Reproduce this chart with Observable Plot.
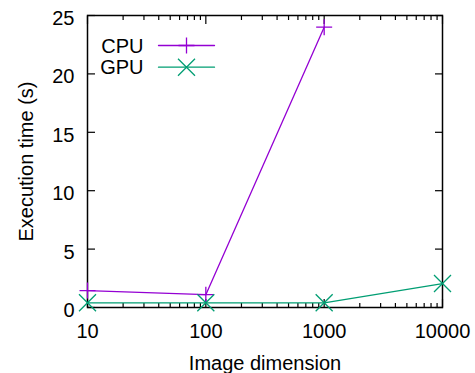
<!DOCTYPE html>
<html><head><meta charset="utf-8">
<script src="https://cdn.jsdelivr.net/npm/d3@7"></script>
<script src="https://cdn.jsdelivr.net/npm/@observablehq/plot@0.6"></script>
<style>body{margin:0;background:#fff}</style>
</head><body><div id="chart"></div>
<script>
const cpuDims = [10, 100, 1000];
const cpuTimes = [1.45, 1.1, 24.0];
const gpuDims = [10, 100, 1000, 10000];
const gpuTimes = [0.4, 0.4, 0.4, 2.05];
const seriesNames = ["CPU", "GPU"];
const seriesColors = ["#9400d3", "#009e73"];
const xTicks = [10, 100, 1000, 10000];
const xMinor = [20, 30, 40, 50, 60, 70, 80, 90, 200, 300, 400, 500, 600, 700, 800, 900, 2000, 3000, 4000, 5000, 6000, 7000, 8000, 9000];
const yTicks = [0, 5, 10, 15, 20, 25];
const xTitle = "Image dimension";
const yTitle = "Execution time (s)";

const cpu = cpuDims.map((d, i) => ({dim: d, t: cpuTimes[i]}));
const gpu = gpuDims.map((d, i) => ({dim: d, t: gpuTimes[i]}));

const plusSym = {draw(c) { c.moveTo(-8, 0); c.lineTo(8, 0); c.moveTo(0, -8); c.lineTo(0, 8); }};
const timesSym = {draw(c) { c.moveTo(-8.5, -8.5); c.lineTo(8.5, 8.5); c.moveTo(-8.5, 8.5); c.lineTo(8.5, -8.5); }};
const lineShape = {draw(c, l) { c.moveTo(0, 0); c.lineTo(0, -l); }};
const blank = () => "";

const chart = Plot.plot({
  width: 475, height: 373,
  marginLeft: 87, marginRight: 33, marginTop: 15, marginBottom: 66,
  style: {fontFamily: "'Liberation Sans', Arial, sans-serif", fontSize: "20px", background: "#fff", color: "#000"},
  x: {type: "log", domain: [10, 10000]},
  y: {domain: [0, 25]},
  marks: [
    Plot.axisY(yTicks, {anchor: "left", tickSize: 0, tickPadding: 13, dy: 3, label: null}),
    Plot.axisY(yTicks, {anchor: "left", tickSize: -8, tickFormat: blank, label: null, strokeWidth: 1.2}),
    Plot.axisY(yTicks, {anchor: "right", tickSize: -8, tickFormat: blank, label: null, strokeWidth: 1.2}),
    Plot.axisX(xTicks, {anchor: "bottom", tickSize: 0, tickPadding: 16, label: null, tickFormat: d3.format("d")}),
    Plot.axisX(xTicks, {anchor: "bottom", tickSize: -8, tickFormat: blank, label: null, strokeWidth: 1.2}),
    Plot.axisX(xTicks, {anchor: "top", tickSize: -8, tickFormat: blank, label: null, strokeWidth: 1.2}),
    Plot.axisX(xMinor, {anchor: "bottom", tickSize: -4, tickFormat: blank, label: null, strokeWidth: 1.2}),
    Plot.axisX(xMinor, {anchor: "top", tickSize: -4, tickFormat: blank, label: null, strokeWidth: 1.2}),
    Plot.frame({stroke: "#000", strokeWidth: 1.5}),
    Plot.text([xTitle], {frameAnchor: "bottom", dy: 56.5, text: d => d, textAnchor: "middle", lineAnchor: "middle", letterSpacing: "0.7px"}),
    Plot.text([yTitle], {frameAnchor: "left", dx: -61, rotate: -90, text: d => d, textAnchor: "middle", lineAnchor: "middle", letterSpacing: "0.7px"}),
    // data
    Plot.line(cpu, {x: "dim", y: "t", stroke: seriesColors[0], strokeWidth: 1.3}),
    Plot.dot(cpu, {x: "dim", y: "t", symbol: plusSym, stroke: seriesColors[0], strokeWidth: 1.3}),
    Plot.line(gpu, {x: "dim", y: "t", stroke: seriesColors[1], strokeWidth: 1.3}),
    Plot.dot(gpu, {x: "dim", y: "t", symbol: timesSym, stroke: seriesColors[1], strokeWidth: 1.3}),
    // legend
    Plot.text([seriesNames[0]], {frameAnchor: "top-left", dx: 56, dy: 31, textAnchor: "end", lineAnchor: "middle", text: d => d}),
    Plot.text([seriesNames[1]], {frameAnchor: "top-left", dx: 56, dy: 52, textAnchor: "end", lineAnchor: "middle", text: d => d}),
    Plot.vector([0], {frameAnchor: "top-left", dx: 71, dy: 30, rotate: 90, length: 56, anchor: "start", shape: lineShape, stroke: seriesColors[0], strokeWidth: 1.3}),
    Plot.vector([0], {frameAnchor: "top-left", dx: 71, dy: 51.7, rotate: 90, length: 56, anchor: "start", shape: lineShape, stroke: seriesColors[1], strokeWidth: 1.3}),
    Plot.dot([0], {frameAnchor: "top-left", dx: 99, dy: 30, symbol: plusSym, stroke: seriesColors[0], strokeWidth: 1.3}),
    Plot.dot([0], {frameAnchor: "top-left", dx: 99, dy: 51.7, symbol: timesSym, stroke: seriesColors[1], strokeWidth: 1.3})
  ]
});
document.getElementById("chart").append(chart);
</script>
</body></html>
